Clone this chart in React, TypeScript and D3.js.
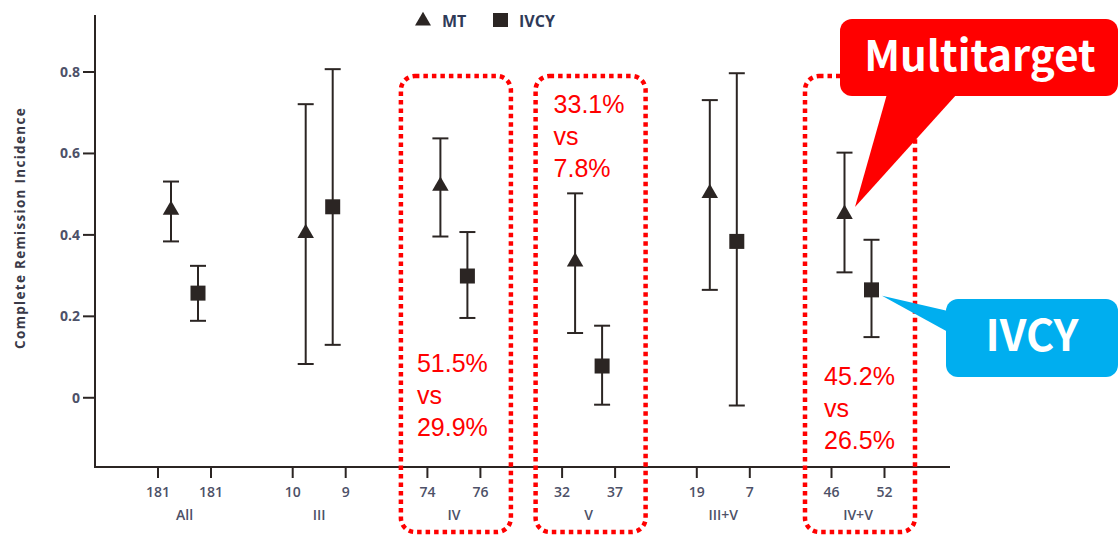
import React from "react";
import * as d3 from "d3";

const groups = ["All", "III", "IV", "V", "III+V", "IV+V"];
const seriesNames = ["MT", "IVCY"];
const mtN = [181, 10, 74, 32, 19, 46];
const ivcyN = [181, 9, 76, 37, 7, 52];
const mtValue = [0.461, 0.404, 0.52, 0.334, 0.502, 0.451];
const mtLower = [0.384, 0.083, 0.396, 0.159, 0.265, 0.308];
const mtUpper = [0.531, 0.721, 0.637, 0.502, 0.731, 0.602];
const ivcyValue = [0.257, 0.469, 0.299, 0.078, 0.384, 0.265];
const ivcyLower = [0.189, 0.13, 0.196, -0.017, -0.019, 0.149];
const ivcyUpper = [0.324, 0.807, 0.407, 0.177, 0.797, 0.388];
const yTicks = [0, 0.2, 0.4, 0.6, 0.8];
const yTickLabels = ["0", "0.2", "0.4", "0.6", "0.8"];
const highlightGroups = ["IV", "V", "IV+V"];
const highlightText = [
  ["51.5%", "vs", "29.9%"],
  ["33.1%", "vs", "7.8%"],
  ["45.2%", "vs", "26.5%"],
];
const yAxisTitle = "Complete Remission Incidence";

const W = 1119;
const H = 535;
const ink = "#2b2523";
const labelInk = "#4d5168";
const red = "#ff0000";
const blue = "#00aeef";

export default function App() {
  const y = d3.scaleLinear().domain([-0.17, 0.94]).range([467, 15]);
  const xg = d3.scalePoint<string>().domain(groups).range([184.5, 858]);
  const xMarker = d3.scalePoint<string>().domain(seriesNames).range([-13.5, 13.5]);
  const xTick = d3.scalePoint<string>().domain(seriesNames).range([-26.5, 26.5]);
  const x0 = 95;
  const xEnd = 950;
  const y0 = 467;
  const yTop = 15;
  const tri = d3.symbol().type(d3.symbolTriangle).size(118)() as string;
  const triLegend = d3.symbol().type(d3.symbolTriangle).size(110)() as string;

  const series = [
    { name: "MT", v: mtValue, lo: mtLower, hi: mtUpper, n: mtN },
    { name: "IVCY", v: ivcyValue, lo: ivcyLower, hi: ivcyUpper, n: ivcyN },
  ];

  const boxTop = 76;
  const boxBottom = 532;
  const textFirstBaseline = [372, 113, 385];
  const lineStep = 32;
  const textDx = [16, 18, 19];

  const mtIVV = { x: xg("IV+V")! + xMarker("MT")!, y: y(mtValue[5]) };
  const ivIVV = { x: xg("IV+V")! + xMarker("IVCY")!, y: y(ivcyValue[5]) };

  return (
    <svg
      width={W}
      height={H}
      viewBox={`0 0 ${W} ${H}`}
      style={{ position: "absolute", left: 0, top: 0, background: "#fff" }}
      fontFamily="'Open Sans', 'Noto Sans', sans-serif"
    >
      <rect x={0} y={0} width={W} height={H} fill="#fff" />

      {/* axes */}
      <line x1={x0} y1={yTop} x2={x0} y2={y0 + 1} stroke={ink} strokeWidth={2} />
      <line x1={x0 - 1} y1={y0} x2={xEnd} y2={y0} stroke={ink} strokeWidth={2} />
      {yTicks.map((t, i) => (
        <g key={"yt" + i}>
          <line x1={x0 - 12} x2={x0} y1={y(t)} y2={y(t)} stroke={ink} strokeWidth={2} />
          <text
            x={x0 - 15}
            y={y(t)}
            dy="0.35em"
            textAnchor="end"
            fontSize={14}
            fontWeight={700}
            fill={labelInk}
          >
            {yTickLabels[i]}
          </text>
        </g>
      ))}
      <text
        transform={`translate(25, 228) rotate(-90)`}
        textAnchor="middle"
        fontSize={13.5}
        fontWeight={700}
        letterSpacing={1.3}
        fill="#3a3a48"
      >
        {yAxisTitle}
      </text>

      {/* x ticks and labels */}
      {groups.map((g, gi) => (
        <g key={"xg" + g}>
          {series.map((s) => {
            const tx = xg(g)! + xTick(s.name)!;
            return (
              <g key={s.name}>
                <line x1={tx} x2={tx} y1={y0} y2={y0 + 11} stroke={ink} strokeWidth={2} />
                <text x={tx} y={497} textAnchor="middle" fontSize={14} fontWeight={600} fill={labelInk}>
                  {s.n[gi]}
                </text>
              </g>
            );
          })}
          <text x={xg(g)!} y={520} textAnchor="middle" fontSize={14} fontWeight={600} fill={labelInk}>
            {g}
          </text>
        </g>
      ))}

      {/* error bars and markers */}
      {series.map((s) =>
        groups.map((g, gi) => {
          const mx = xg(g)! + xMarker(s.name)!;
          return (
            <g key={s.name + g}>
              <line x1={mx} x2={mx} y1={y(s.lo[gi])} y2={y(s.hi[gi])} stroke={ink} strokeWidth={2} />
              <line x1={mx - 8} x2={mx + 8} y1={y(s.lo[gi])} y2={y(s.lo[gi])} stroke={ink} strokeWidth={2} />
              <line x1={mx - 8} x2={mx + 8} y1={y(s.hi[gi])} y2={y(s.hi[gi])} stroke={ink} strokeWidth={2} />
              {s.name === "MT" ? (
                <path d={tri} transform={`translate(${mx},${y(s.v[gi])})`} fill={ink} />
              ) : (
                <rect x={mx - 7.5} y={y(s.v[gi]) - 7.5} width={15} height={15} fill={ink} />
              )}
            </g>
          );
        })
      )}

      {/* legend */}
      <path d={triLegend} transform="translate(423,21)" fill={ink} />
      <text x={442} y={27} fontSize={16} fontWeight={700} fill="#2f3a58">
        MT
      </text>
      <rect x={493} y={13} width={15} height={14} fill={ink} />
      <text x={519} y={27} fontSize={16} fontWeight={700} fill="#2f3a58">
        IVCY
      </text>

      {/* highlight boxes */}
      {highlightGroups.map((g, i) => {
        const bx = xg(g)! - 53;
        return (
          <g key={"hb" + g}>
            <rect
              x={bx}
              y={boxTop}
              width={110}
              height={boxBottom - boxTop}
              rx={14}
              fill="none"
              stroke={red}
              strokeWidth={4.5}
              strokeDasharray="4.5 4"
            />
            {highlightText[i].map((t, j) => (
              <text
                key={j}
                x={bx + textDx[i]}
                y={textFirstBaseline[i] + j * lineStep}
                fontSize={25}
                fill={red}
                fontFamily="'Liberation Sans', Arial, sans-serif"
              >
                {t}
              </text>
            ))}
          </g>
        );
      })}

      {/* Multitarget callout */}
      <rect x={840} y={19} width={278} height={77} rx={12} fill={red} />
      <polygon points={`887,94 957,94 ${mtIVV.x + 10.5},${mtIVV.y - 7}`} fill={red} />
      <text
        x={980}
        y={71}
        textAnchor="middle"
        fontSize={42}
        fontWeight={700}
        fill="#fff"
        fontFamily="'Noto Sans CJK JP', 'Noto Sans', sans-serif"
      >
        Multitarget
      </text>

      {/* IVCY callout */}
      <rect x={946} y={299} width={172} height={78} rx={12} fill={blue} />
      <polygon points={`948,311 948,332 ${ivIVV.x + 10.5},${ivIVV.y + 6}`} fill={blue} />
      <text
        x={1032}
        y={351}
        textAnchor="middle"
        fontSize={43}
        fontWeight={700}
        fill="#fff"
        fontFamily="'Noto Sans CJK JP', 'Noto Sans', sans-serif"
      >
        IVCY
      </text>
    </svg>
  );
}
